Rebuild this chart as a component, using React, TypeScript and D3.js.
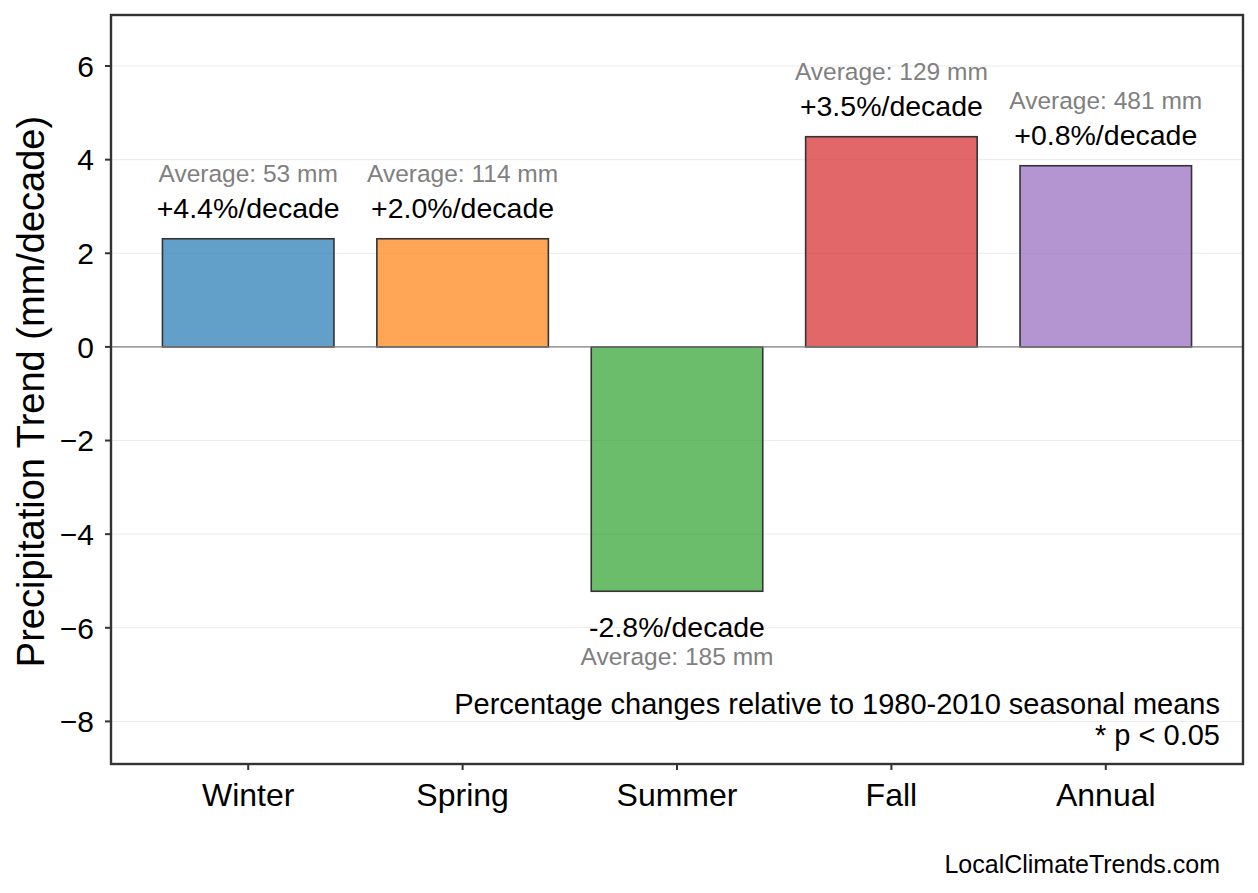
import React from "react";
import * as d3 from "d3";

const seasons = ["Winter", "Spring", "Summer", "Fall", "Annual"];
const trends = [2.31, 2.31, -5.22, 4.49, 3.87];
const pctLabels = ["+4.4%/decade", "+2.0%/decade", "-2.8%/decade", "+3.5%/decade", "+0.8%/decade"];
const averages = ["Average: 53 mm", "Average: 114 mm", "Average: 185 mm", "Average: 129 mm", "Average: 481 mm"];
const barColors = ["#1f77b4", "#ff7f0e", "#2ca02c", "#d62728", "#9467bd"];
const yTicks = [-8, -6, -4, -2, 0, 2, 4, 6];

const W = 1258;
const H = 893;
const plot = { left: 111, right: 1243, top: 15, bottom: 764 };
const FONT = "'Liberation Sans', Arial, Helvetica, sans-serif";

const App: React.FC = () => {
  const x = d3.scaleLinear().domain([-0.64, 4.64]).range([plot.left, plot.right]);
  const y = d3.scaleLinear().domain([-8.91, 7.09]).range([plot.bottom, plot.top]);
  const barW = x(0.8) - x(0);

  return (
    <svg width={W} height={H} style={{ position: "absolute", left: 0, top: 0, background: "#fff" }} fontFamily={FONT}>
      {/* grid */}
      {yTicks.map((t) => (
        <line key={"g" + t} x1={plot.left} x2={plot.right} y1={y(t)} y2={y(t)} stroke="#ebebeb" strokeWidth={1} />
      ))}
      {/* bars */}
      {trends.map((v, i) => (
        <rect
          key={seasons[i]}
          x={x(i) - barW / 2}
          y={Math.min(y(v), y(0))}
          width={barW}
          height={Math.abs(y(v) - y(0))}
          fill={barColors[i]}
          fillOpacity={0.7}
          stroke="#333"
          strokeWidth={1.6}
        />
      ))}
      {/* zero line */}
      <line x1={plot.left} x2={plot.right} y1={y(0)} y2={y(0)} stroke="#808080" strokeWidth={1.3} />
      {/* labels */}
      {trends.map((v, i) => {
        const pos = v >= 0;
        return (
          <g key={"l" + i} textAnchor="middle">
            <text x={x(i)} y={y(pos ? v + 0.45 : v - 0.98)} fontSize={28.5} fill="#000">
              {pctLabels[i]}
            </text>
            <text x={x(i)} y={y(pos ? v + 1.22 : v - 1.58)} fontSize={24.5} fill="#808080">
              {averages[i]}
            </text>
          </g>
        );
      })}
      {/* frame */}
      <rect
        x={plot.left}
        y={plot.top}
        width={plot.right - plot.left}
        height={plot.bottom - plot.top}
        fill="none"
        stroke="#333"
        strokeWidth={2.4}
      />
      {/* y ticks */}
      {yTicks.map((t) => (
        <g key={"t" + t}>
          <line x1={plot.left - 6} x2={plot.left} y1={y(t)} y2={y(t)} stroke="#333" strokeWidth={2} />
          <text x={plot.left - 17} y={y(t)} dy="0.36em" textAnchor="end" fontSize={30} fill="#000">
            {t < 0 ? "\u2212" + Math.abs(t) : String(t)}
          </text>
        </g>
      ))}
      {/* x ticks */}
      {seasons.map((s, i) => (
        <g key={"x" + s}>
          <line x1={x(i)} x2={x(i)} y1={plot.bottom} y2={plot.bottom + 6} stroke="#333" strokeWidth={2} />
          <text x={x(i)} y={806} textAnchor="middle" fontSize={32} fill="#000">
            {s}
          </text>
        </g>
      ))}
      {/* y axis label */}
      <text
        transform={`translate(44,${(plot.top + plot.bottom) / 2 + 2}) rotate(-90)`}
        textAnchor="middle"
        fontSize={38}
        fill="#000"
      >
        Precipitation Trend (mm/decade)
      </text>
      {/* notes */}
      <text x={1220} y={714} textAnchor="end" fontSize={29} fill="#000">
        Percentage changes relative to 1980-2010 seasonal means
      </text>
      <text x={1220} y={745} textAnchor="end" fontSize={29} fill="#000">
        * p &lt; 0.05
      </text>
      <text x={1220} y={873} textAnchor="end" fontSize={25} fill="#000">
        LocalClimateTrends.com
      </text>
    </svg>
  );
};

export default App;
